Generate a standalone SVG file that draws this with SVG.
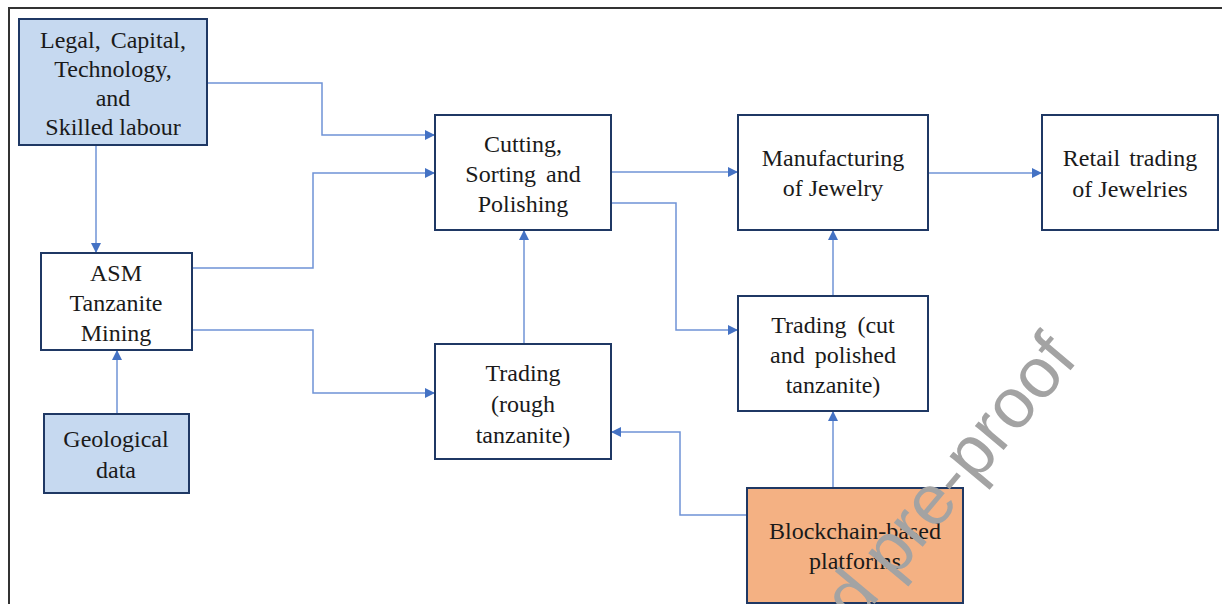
<svg xmlns="http://www.w3.org/2000/svg" width="1222" height="604" viewBox="0 0 1222 604">
<defs>
<style>
.box{stroke:#1f3864;stroke-width:2}
.w{fill:#ffffff}
.b{fill:#c6d9f0}
.o{fill:#f4b183}
.t text{font-size:24px;fill:#1a1a1a;text-anchor:middle}
.c{fill:none;stroke:#6f93d6;stroke-width:1.5}
.wm{font-size:71px;fill:#a3a3a3;text-anchor:start}
</style>
<marker id="ah" viewBox="0 0 10 10" refX="10" refY="5" markerWidth="10" markerHeight="10" markerUnits="userSpaceOnUse" orient="auto">
<path d="M0,0 L10,5 L0,10 z" fill="#4472c4"/>
</marker>
</defs>
<rect width="1222" height="604" fill="#ffffff"/>
<path d="M9,604 V8 H1222" fill="none" stroke="#333333" stroke-width="2"/>

<g id="connectors">
<path class="c" d="M207,83 H322 V135 H435" marker-end="url(#ah)"/>
<path class="c" d="M192,268 H313 V173 H435" marker-end="url(#ah)"/>
<path class="c" d="M192,330 H313 V393 H435" marker-end="url(#ah)"/>
<path class="c" d="M96,145 V253" marker-end="url(#ah)"/>
<path class="c" d="M117,414 V350" marker-end="url(#ah)"/>
<path class="c" d="M524,344 V230" marker-end="url(#ah)"/>
<path class="c" d="M611,172 H738" marker-end="url(#ah)"/>
<path class="c" d="M611,203 H676 V330 H738" marker-end="url(#ah)"/>
<path class="c" d="M928,173 H1042" marker-end="url(#ah)"/>
<path class="c" d="M833,296 V230" marker-end="url(#ah)"/>
<path class="c" d="M833,488 V411" marker-end="url(#ah)"/>
<path class="c" d="M747,515 H680 V432 H611" marker-end="url(#ah)"/>
</g>

<g class="t" font-family="'Liberation Serif', 'Times New Roman', serif">
<g id="legal">
<rect class="box b" x="19" y="19" width="188" height="126"/>
<text x="113" y="48" word-spacing="4">Legal, Capital,</text>
<text x="113" y="77">Technology,</text>
<text x="113" y="106">and</text>
<text x="113" y="135">Skilled labour</text>
</g>
<g id="asm">
<rect class="box w" x="41" y="253" width="151" height="97"/>
<text x="116" y="281">ASM</text>
<text x="116" y="311">Tanzanite</text>
<text x="116" y="341">Mining</text>
</g>
<g id="geological">
<rect class="box b" x="44" y="414" width="145" height="79"/>
<text x="116" y="447">Geological</text>
<text x="116" y="478">data</text>
</g>
<g id="cutting">
<rect class="box w" x="435" y="115" width="176" height="115"/>
<text x="523" y="152">Cutting,</text>
<text x="523" y="182" word-spacing="4">Sorting and</text>
<text x="523" y="212">Polishing</text>
</g>
<g id="trading-rough">
<rect class="box w" x="435" y="344" width="176" height="115"/>
<text x="523" y="381">Trading</text>
<text x="523" y="412">(rough</text>
<text x="523" y="443">tanzanite)</text>
</g>
<g id="manufacturing">
<rect class="box w" x="738" y="115" width="190" height="115"/>
<text x="833" y="166">Manufacturing</text>
<text x="833" y="196">of Jewelry</text>
</g>
<g id="retail">
<rect class="box w" x="1042" y="115" width="176" height="115"/>
<text x="1130" y="166" word-spacing="3">Retail trading</text>
<text x="1130" y="197">of Jewelries</text>
</g>
<g id="trading-cut">
<rect class="box w" x="738" y="296" width="190" height="115"/>
<text x="833" y="333" word-spacing="5">Trading (cut</text>
<text x="833" y="363" word-spacing="4">and polished</text>
<text x="833" y="393">tanzanite)</text>
</g>
<g id="blockchain">
<rect class="box o" x="747" y="488" width="216" height="115"/>
<text x="855" y="539">Blockchain-based</text>
<text x="855" y="569">platforms</text>
</g>
</g>

<g font-family="'Liberation Sans', Arial, sans-serif">
<text class="wm" transform="translate(856,626) rotate(-50)">d pre-proof</text>
</g>
</svg>
